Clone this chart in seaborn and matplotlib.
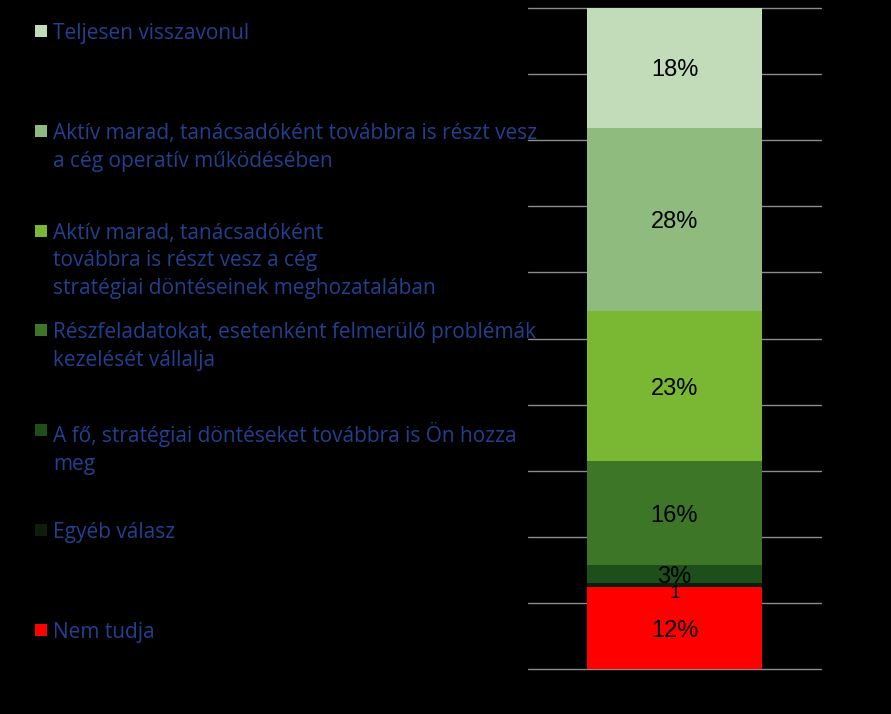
import numpy as np
import pandas as pd
import matplotlib
matplotlib.use("Agg")
import matplotlib.pyplot as plt
import seaborn as sns
from matplotlib.patches import Rectangle

# ---- data (top of stack first) ----
categories = [
    "Teljesen visszavonul",
    "Aktív marad, tanácsadóként továbbra is részt vesz\na cég operatív működésében",
    "Aktív marad, tanácsadóként\ntovábbra is részt vesz a cég\nstratégiai döntéseinek meghozatalában",
    "Részfeladatokat, esetenként felmerülő problémák\nkezelését vállalja",
    "A fő, stratégiai döntéseket továbbra is Ön hozza\nmeg",
    "Egyéb válasz",
    "Nem tudja",
]
values = [18.1, 27.7, 22.8, 15.7, 2.7, 0.6, 12.4]
value_labels = ["18%", "28%", "23%", "16%", "3%", "1", "12%"]
colors = ["#c2dbb9", "#8fbb7f", "#7ab833", "#3d7626", "#1e4e1a", "#0d1f0b", "#ff0000"]

sns.set_theme(style="white")
plt.rcParams["font.family"] = ["Open Sans", "DejaVu Sans"]

W, H = 891, 714
fig = plt.figure(figsize=(W / 100, H / 100), dpi=100, facecolor="black")
ax = fig.add_axes([528 / W, 1 - 669 / H, (821 - 528) / W, (669 - 8) / H])
ax.set_facecolor("black")

df = pd.DataFrame({"x": [0] * len(values), "value": values, "cat": categories})
sns.histplot(data=df, x="x", weights="value", hue="cat", hue_order=categories,
             multiple="stack", discrete=True, shrink=0.6, palette=colors,
             alpha=1, linewidth=0, legend=False, ax=ax)

ax.set_xlim(-0.5, 0.5)
ax.set_ylim(0, 100)
ax.set_yticks(np.arange(0, 101, 10))
ax.set_xticks([])
ax.tick_params(left=False, labelleft=False, bottom=False, labelbottom=False)
ax.grid(axis="y", color="#8c8c8c", linewidth=1)
for gl in ax.get_ygridlines():
    gl.set_clip_on(False)
ax.set_axisbelow(True)
ax.set_xlabel("")
ax.set_ylabel("")
for s in ax.spines.values():
    s.set_visible(False)

# value labels at segment centres (bottom to top)
cum = np.cumsum(values[::-1])
starts = cum - np.array(values[::-1])
for lab, st, v in zip(value_labels[::-1], starts, values[::-1]):
    small = lab == "1"
    ax.text(0, st + v / 2, lab, ha="center", va=("top" if small else "center_baseline"),
            color="black", fontsize=(14 if small else 17),
            family=["Liberation Sans", "DejaVu Sans"])

# legend on the left
for i, (cat, col) in enumerate(zip(categories, colors)):
    base = 37 + i * 99.8
    fig.patches.append(Rectangle((35 / W, 1 - base / H), 12 / W, 12 / H,
                                 transform=fig.transFigure, facecolor=col,
                                 edgecolor="none"))
    fig.text(53 / W, 1 - (base - 14) / H, cat, ha="left", va="top",
             color="#22408f", fontsize=15, linespacing=1.43)

fig.savefig("out.png", dpi=100, facecolor="black")
